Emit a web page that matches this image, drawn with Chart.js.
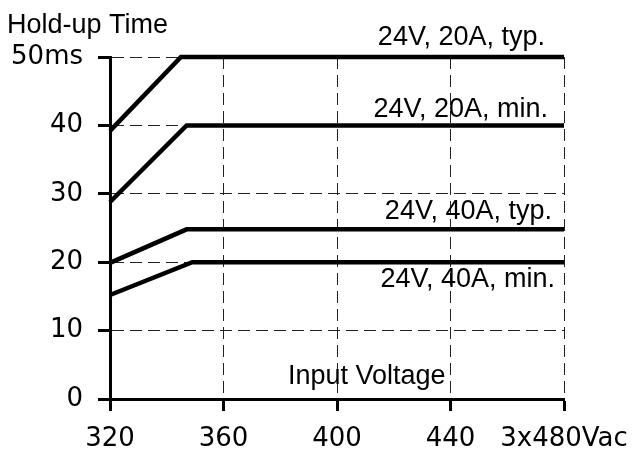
<!DOCTYPE html>
<html>
<head>
<meta charset="utf-8">
<script src="https://cdn.jsdelivr.net/npm/chart.js@4.4.0/dist/chart.umd.min.js"></script>
<style>
  html, body { margin: 0; padding: 0; background: #fff; }
  #wrap { width: 637px; height: 452px; position: relative; }
</style>
</head>
<body>
<div id="wrap"><canvas id="c" width="637" height="452"></canvas></div>
<script>
// ---- Data ----
const xTickValues = [320, 360, 400, 440, 480];
const xTickLabels = ['320', '360', '400', '440', '3x480Vac'];
const yTickValues = [0, 10, 20, 30, 40, 50];
const yTickLabels = ['0', '10', '20', '30', '40', '50ms'];

const seriesNames = ['24V, 20A, typ.', '24V, 20A, min.', '24V, 40A, typ.', '24V, 40A, min.'];
const typ20X = [320, 345, 480];
const typ20Y = [39.2, 50, 50];
const min20X = [320, 347, 480];
const min20Y = [28.8, 40, 40];
const typ40X = [320, 347, 480];
const typ40Y = [19.9, 24.8, 24.8];
const min40X = [320, 349, 480];
const min40Y = [15.2, 20, 20];

const yAxisTitle = 'Hold-up Time';
const xAxisTitle = 'Input Voltage';

function pts(xs, ys) { return xs.map((x, i) => ({ x: x, y: ys[i] })); }

const seriesX = [typ20X, min20X, typ40X, min40X];
const seriesY = [typ20Y, min20Y, typ40Y, min40Y];

const datasets = seriesNames.map((name, i) => ({
  label: name,
  data: pts(seriesX[i], seriesY[i]),
  borderColor: '#000',
  borderWidth: 4.5,
  pointRadius: 0,
  tension: 0,
  clip: false,
  borderCapStyle: 'butt',
  borderJoinStyle: 'miter'
}));

// label placement (right edge offset from x=480 pixel, baseline offset from line pixel)
const labelPlacement = [
  { dx: -19, dy: -12 },
  { dx: -16, dy: -8 },
  { dx: -12, dy: -10 },
  { dx: -9, dy: 25 }
];

const textPlugin = {
  id: 'texts',
  afterDatasetsDraw(chart) {
    const ctx = chart.ctx;
    const xs = chart.scales.x, ys = chart.scales.y;
    ctx.save();
    ctx.fillStyle = '#000';
    ctx.textBaseline = 'alphabetic';
    ctx.font = '27px "Liberation Sans", Arial, sans-serif';
    ctx.textAlign = 'right';
    seriesNames.forEach((name, i) => {
      const yv = seriesY[i][seriesY[i].length - 1];
      const px = xs.getPixelForValue(480) + labelPlacement[i].dx;
      const py = ys.getPixelForValue(yv) + labelPlacement[i].dy;
      ctx.fillText(name, px, py);
    });
    ctx.textAlign = 'left';
    ctx.fillText(yAxisTitle, 7, 33);
    ctx.fillText(xAxisTitle, 288, 384);
    ctx.restore();
  }
};

new Chart(document.getElementById('c'), {
  type: 'line',
  data: { datasets: datasets },
  options: {
    responsive: false,
    animation: false,
    devicePixelRatio: 1,
    layout: { padding: { left: 0, right: 73, top: 57, bottom: 0 } },
    plugins: { legend: { display: false }, tooltip: { enabled: false } },
    scales: {
      x: {
        type: 'linear',
        min: 320, max: 480,
        afterBuildTicks(scale) { scale.ticks = xTickValues.map(v => ({ value: v })); },
        afterFit(scale) { scale.height = 53; scale.paddingLeft = 0; scale.paddingRight = 0; },
        ticks: {
          callback: (v) => xTickLabels[xTickValues.indexOf(v)],
          color: '#000',
          font: { family: '"DejaVu Sans", sans-serif', size: 26 },
          padding: 13,
          maxRotation: 0,
          autoSkip: false
        },
        grid: {
          color: '#222',
          lineWidth: 1,
          tickLength: 12,
          tickColor: '#000',
          tickWidth: 3,
          drawOnChartArea: true
        },
        border: { display: true, color: '#000', width: 3, dash: [12, 6] }
      },
      y: {
        type: 'linear',
        min: 0, max: 50,
        afterBuildTicks(scale) { scale.ticks = yTickValues.map(v => ({ value: v })); },
        afterFit(scale) { scale.width = 110; scale.paddingTop = 0; scale.paddingBottom = 0; },
        ticks: {
          callback: (v) => yTickLabels[yTickValues.indexOf(v)],
          color: '#000',
          font: { family: '"DejaVu Sans", sans-serif', size: 26 },
          padding: 15,
          autoSkip: false
        },
        grid: {
          color: '#222',
          lineWidth: 1,
          tickLength: 12,
          tickColor: '#000',
          tickWidth: 3
        },
        border: { display: true, color: '#000', width: 3, dash: [12, 6] }
      }
    }
  },
  plugins: [textPlugin]
});
</script>
</body>
</html>
